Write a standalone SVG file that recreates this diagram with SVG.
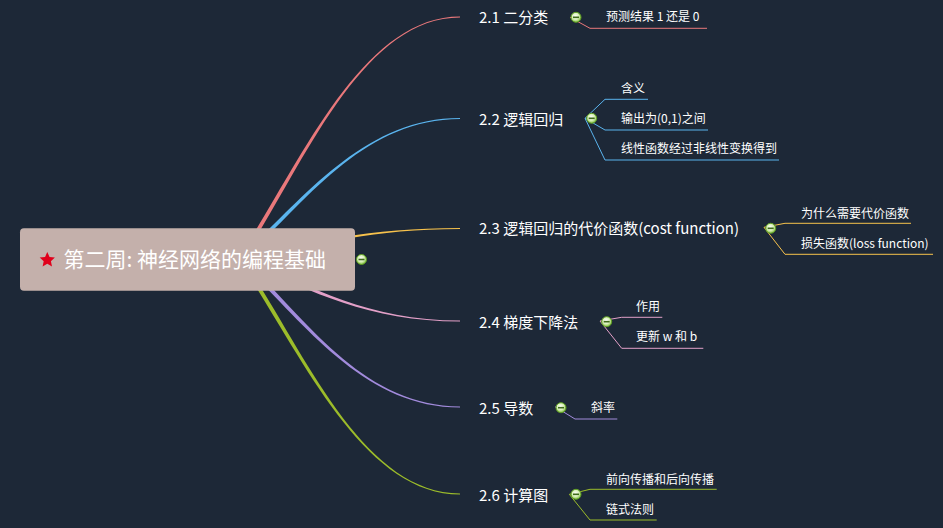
<svg xmlns="http://www.w3.org/2000/svg" width="943" height="528" viewBox="0 0 943 528">
  <defs>
    <radialGradient id="ig" cx="0.45" cy="0.4" r="0.6">
      <stop offset="0" stop-color="#ffffff"/>
      <stop offset="0.55" stop-color="#d8efb8"/>
      <stop offset="1" stop-color="#7fbf3c"/>
    </radialGradient>
    <g id="icon">
      <circle r="5" fill="url(#ig)" stroke="#5e9e22" stroke-width="1"/>
      <rect x="-3" y="-0.8" width="6" height="1.6" fill="#3f6a1a"/>
    </g>
  </defs>
  <style>
    text { font-family: "Noto Sans CJK SC", "Liberation Sans", sans-serif; fill: #ffffff; }
    .l1 { font-size: 15px; }
    .l2 { font-size: 12px; }
    .root { font-size: 21px; }
    .sub { fill: none; stroke-width: 1; }
  </style>
  <rect width="943" height="528" fill="#1d2837"/>

  <g id="connectors">
    <path fill="#e9787b" d="M241.66 260.11 C301.66 170.11 360 17.5 460 17.5 L460 16.5 C360 16.5 298.34 167.89 238.34 257.89 Z"/>
    <path fill="#5ab4ee" d="M241.31 260.51 C301.31 208.51 360 119 460 119 L460 118 C360 118 298.69 205.49 238.69 257.49 Z"/>
    <path fill="#f7c24c" d="M240.37 260.97 C300.37 249.67 360 229 460 229 L460 228 C360 228 299.63 245.73 239.63 257.03 Z"/>
    <path fill="#e3a0c8" d="M239.29 260.87 C299.29 283.77 360 321.5 460 321.5 L460 320.5 C360 320.5 300.71 280.03 240.71 257.13 Z"/>
    <path fill="#a28bdc" d="M238.65 260.48 C298.65 315.28 360 407.5 460 407.5 L460 406.5 C360 406.5 301.35 312.32 241.35 257.52 Z"/>
    <path fill="#9cbc2a" d="M238.35 260.14 C298.35 347.14 360 494.5 460 494.5 L460 493.5 C360 493.5 301.65 344.86 241.65 257.86 Z"/>

    <path class="sub" stroke="#e9787b" d="M570 17.3 L590 28.3 H707"/>
    <path class="sub" stroke="#5ab4ee" d="M585 118.3 L605 99.3 H648 M585 118.3 L605 130 H708 M585 118.3 L605 160 H779"/>
    <path class="sub" stroke="#f7c24c" d="M764 227.3 L785 223.3 H911 M764 227.3 L785 254.3 H933"/>
    <path class="sub" stroke="#e3a0c8" d="M600 321 L621.7 317.3 H662.3 M600 321 L621.7 348.3 H703.3"/>
    <path class="sub" stroke="#a28bdc" d="M555 406.7 L575 419 H617.3"/>
    <path class="sub" stroke="#9cbc2a" d="M569.3 494.3 L590 489.3 H716.7 M569.3 494.3 L590 520 H656.7"/>
  </g>

  <g id="root">
    <rect x="20" y="228.3" width="335" height="62.4" rx="4" fill="#c4b0ab"/>
    <polygon fill="#e0001b" points="47.3,252 49.53,256.93 54.91,257.53 50.91,261.17 52,266.47 47.3,263.8 42.6,266.47 43.69,261.17 39.69,257.53 45.07,256.93"/>
    <text class="root" x="63.5" y="267">第二周: 神经网络的编程基础</text>
    <use href="#icon" x="361.5" y="259.5"/>
  </g>

  <g id="n21">
    <text class="l1" x="479" y="23">2.1 二分类</text>
    <use href="#icon" x="576" y="17.3"/>
  </g>
  <g id="n21a"><text class="l2" x="606" y="20.5">预测结果 1 还是 0</text></g>

  <g id="n22">
    <text class="l1" x="479" y="124.5">2.2 逻辑回归</text>
    <use href="#icon" x="591.7" y="118.3"/>
  </g>
  <g id="n22a"><text class="l2" x="621" y="93">含义</text></g>
  <g id="n22b"><text class="l2" x="621" y="123">输出为(0,1)之间</text></g>
  <g id="n22c"><text class="l2" x="621" y="153">线性函数经过非线性变换得到</text></g>

  <g id="n23">
    <text class="l1" x="479" y="233.5">2.3 逻辑回归的代价函数(cost function)</text>
    <use href="#icon" x="770.7" y="228.3"/>
  </g>
  <g id="n23a"><text class="l2" x="801" y="218">为什么需要代价函数</text></g>
  <g id="n23b"><text class="l2" x="801" y="247.5">损失函数(loss function)</text></g>

  <g id="n24">
    <text class="l1" x="479" y="327.5">2.4 梯度下降法</text>
    <use href="#icon" x="606.7" y="321.7"/>
  </g>
  <g id="n24a"><text class="l2" x="636" y="310.5">作用</text></g>
  <g id="n24b"><text class="l2" x="636" y="341">更新 w 和 b</text></g>

  <g id="n25">
    <text class="l1" x="479" y="414">2.5 导数</text>
    <use href="#icon" x="561" y="407.7"/>
  </g>
  <g id="n25a"><text class="l2" x="591" y="412">斜率</text></g>

  <g id="n26">
    <text class="l1" x="479" y="501">2.6 计算图</text>
    <use href="#icon" x="576" y="494.3"/>
  </g>
  <g id="n26a"><text class="l2" x="606" y="483.5">前向传播和后向传播</text></g>
  <g id="n26b"><text class="l2" x="606" y="514">链式法则</text></g>
</svg>
